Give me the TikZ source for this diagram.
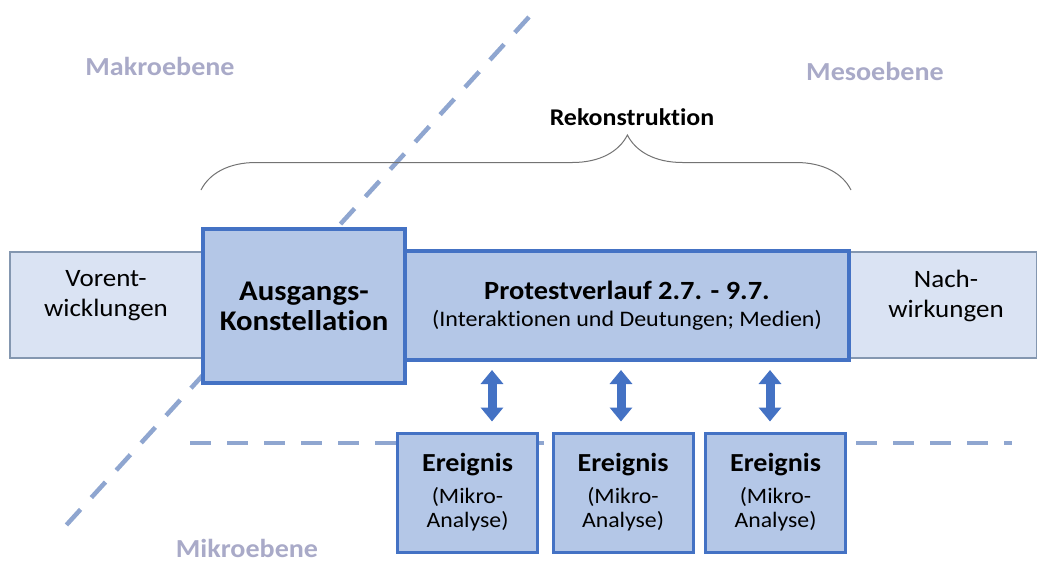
\documentclass[tikz,border=0pt]{standalone}
\usepackage{fontspec}
\setmainfont{Carlito}[Ligatures=CommonOff, FakeStretch=1.08]
\usetikzlibrary{arrows.meta,decorations.pathreplacing}

\definecolor{bandfill}{HTML}{DAE3F3}
\definecolor{bandline}{HTML}{8497B0}
\definecolor{boxfill}{HTML}{B4C7E7}
\definecolor{boxline}{HTML}{4472C4}
\definecolor{dashline}{HTML}{8FA6D0}
\definecolor{levelgray}{HTML}{A9AAC8}

\begin{document}
\begin{tikzpicture}[
    x=1pt, y=-1pt,
    every node/.style={anchor=center, inner sep=0pt},
    band/.style={draw=bandline, line width=1.2pt, fill=bandfill},
    phase/.style={draw=boxline, line width=4pt, fill=boxfill},
    event/.style={draw=boxline, line width=3pt, fill=boxfill, minimum width=140, minimum height=119, align=center, font=\fontsize{22}{24}\selectfont},
    level/.style={text=levelgray, font=\fontsize{26}{28}\selectfont\bfseries},
    plain/.style={align=center, font=\fontsize{25}{30}\selectfont},
    boundary/.style={draw=dashline, line width=4.5pt, dash pattern=on 21pt off 16pt},
    bracket/.style={draw=black!55, line width=1pt, decorate, decoration={brace, amplitude=55pt, aspect=0.656}},
    exchange/.style={{Triangle[width=22pt,length=14pt]}-{Triangle[width=22pt,length=14pt]}, draw=boxline, line width=9pt, shorten <=8pt, shorten >=10pt}
    ]
\useasboundingbox (0,0) rectangle (1037,565);

% Level labels
\node[level] (makro) at (160,66) {Makroebene};
\node[level] (meso) at (875,71) {Mesoebene};
\node[level] (mikro) at (247,548) {Mikroebene};

% Time band
\node[band, minimum width=1027, minimum height=106] (band) at (523.5,305) {};
\node[plain] (vor) at (106,296) {Vorent-\\wicklungen};
\node[plain] (nach) at (946,296) {Nach-\\wirkungen};

% Level boundaries
\coordinate (diagtop) at (529,17);
\coordinate (diagend) at (60,532);
\draw[boundary] (diagtop) -- (diagend);
\coordinate (mikrostart) at (190,443);
\coordinate (mikroend) at (1012,443);
\draw[boundary] (mikrostart) -- (mikroend);

% Phases
\node[phase, minimum width=202, minimum height=154, align=center, font=\fontsize{28.5}{30}\selectfont\bfseries] (ausgang) at (304,306) {Ausgangs-\\Konstellation};
\node[phase, minimum width=444, minimum height=109, align=center, font=\fontsize{26.3}{27}\selectfont] (protest) at (627,305.5)
    {\textbf{Protestverlauf 2.7. - 9.7.}\\{\fontsize{22.2}{27}\selectfont (Interaktionen und Deutungen; Medien)}};

% Reconstruction brace
\draw[bracket] ([yshift=37pt]ausgang.north west) -- ([yshift=37pt]ausgang.north west -| protest.east);
\node[font=\fontsize{24}{28}\selectfont\bfseries] (rekon) at (632,117) {Rekonstruktion};

% Events
\node[event] (ev1) at (467.5,492.5) {{\fontsize{26}{26}\selectfont\bfseries Ereignis}\\[8pt](Mikro-\\Analyse)};
\node[event] (ev2) at (623,492.5) {{\fontsize{26}{26}\selectfont\bfseries Ereignis}\\[8pt](Mikro-\\Analyse)};
\node[event] (ev3) at (775.5,492.5) {{\fontsize{26}{26}\selectfont\bfseries Ereignis}\\[8pt](Mikro-\\Analyse)};

% Arrows between course and events
\foreach \i/\ax in {1/492,2/621,3/770} {
    \coordinate (arrow\i) at (\ax,400);
    \draw[exchange] (protest.south -| arrow\i) -- (ev\i.north -| arrow\i);
}

\end{tikzpicture}
\end{document}
